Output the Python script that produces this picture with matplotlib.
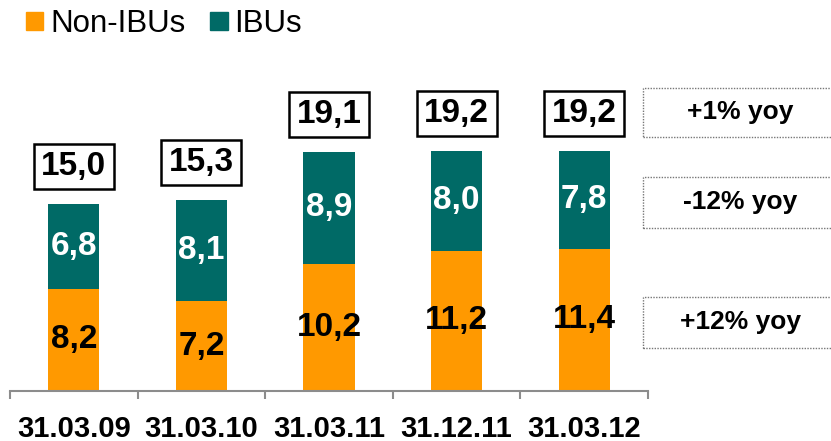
import matplotlib
matplotlib.use("Agg")
import matplotlib.pyplot as plt
from matplotlib.patches import Rectangle, Patch

plt.rcParams['font.family'] = ['Liberation Sans', 'DejaVu Sans']

dates = ['31.03.09', '31.03.10', '31.03.11', '31.12.11', '31.03.12']
non_ibus = [8.2, 7.2, 10.2, 11.2, 11.4]
ibus = [6.8, 8.1, 8.9, 8.0, 7.8]
totals = [15.0, 15.3, 19.1, 19.2, 19.2]
yoy_labels = ['+1% yoy', '-12% yoy', '+12% yoy']

ORANGE = '#FF9900'
TEAL = '#006A66'
GRAY = '#8C8C8C'

W, H = 831, 441
fig = plt.figure(figsize=(W / 100, H / 100), dpi=100)

# axes: x from px 10 to 648, y from px 391 (baseline) to top
ax = fig.add_axes([10 / W, (H - 391) / H, 638 / W, 391 / H])
px_per_unit = 12.5
ax.set_ylim(0, 391 / px_per_unit)
ax.set_xlim(-0.5, len(dates) - 0.5)

x = range(len(dates))
bw = 0.40
ax.bar(x, non_ibus, width=bw, color=ORANGE, linewidth=0)
ax.bar(x, ibus, width=bw, bottom=non_ibus, color=TEAL, linewidth=0)


def fmt(v):
    return f'{v:.1f}'.replace('.', ',')


xunit = 638 / len(dates)
box_w = 80 / xunit
box_h = 45 / px_per_unit
for i in x:
    ax.text(i, non_ibus[i] / 2, fmt(non_ibus[i]), ha='center', va='center',
            fontsize=24, fontweight='bold', color='black')
    ax.text(i, non_ibus[i] + ibus[i] / 2, fmt(ibus[i]), ha='center', va='center',
            fontsize=24, fontweight='bold', color='white')
    cy = totals[i] + 37.5 / px_per_unit
    ax.add_patch(Rectangle((i - box_w / 2, cy - box_h / 2), box_w, box_h,
                           facecolor='white', edgecolor='black', linewidth=1.8,
                           clip_on=False))
    ax.text(i, cy, fmt(totals[i]), ha='center', va='center',
            fontsize=24, fontweight='bold', color='black')

for s in ['top', 'right', 'left']:
    ax.spines[s].set_visible(False)
ax.spines['bottom'].set_color(GRAY)
ax.spines['bottom'].set_linewidth(1.5)
ax.set_yticks([])
ax.set_xticks(list(x))
ax.set_xticklabels(dates, fontsize=21, fontweight='bold')
ax.tick_params(axis='x', which='major', length=0, pad=17)
ax.set_xticks([i - 0.5 for i in range(len(dates) + 1)], minor=True)
ax.tick_params(axis='x', which='minor', length=6, width=1.5, color=GRAY, direction='out')

# yoy boxes on the right
yoy_px = [(88, 137), (177, 228), (297, 348)]
for lbl, (y0, y1) in zip(yoy_labels, yoy_px):
    fig.patches.append(Rectangle((643 / W, (H - y1) / H), 200 / W, (y1 - y0) / H,
                                 transform=fig.transFigure, facecolor='none',
                                 edgecolor='#777777', linewidth=1.0,
                                 linestyle=(0, (1, 1)), clip_on=False))
    fig.text(740 / W, (H - (y0 + y1) / 2) / H, lbl, ha='center', va='center',
             fontsize=19, fontweight='bold')

handles = [Patch(color=ORANGE, label='Non-IBUs'), Patch(color=TEAL, label='IBUs')]
fig.legend(handles=handles, loc='upper left', bbox_to_anchor=(26 / W, 1 - 9 / H),
           ncol=2, frameon=False, fontsize=22.5, handlelength=0.55, handleheight=0.55,
           handletextpad=0.22, columnspacing=0.8, borderpad=0, borderaxespad=0)

fig.savefig('out.png', dpi=100)
